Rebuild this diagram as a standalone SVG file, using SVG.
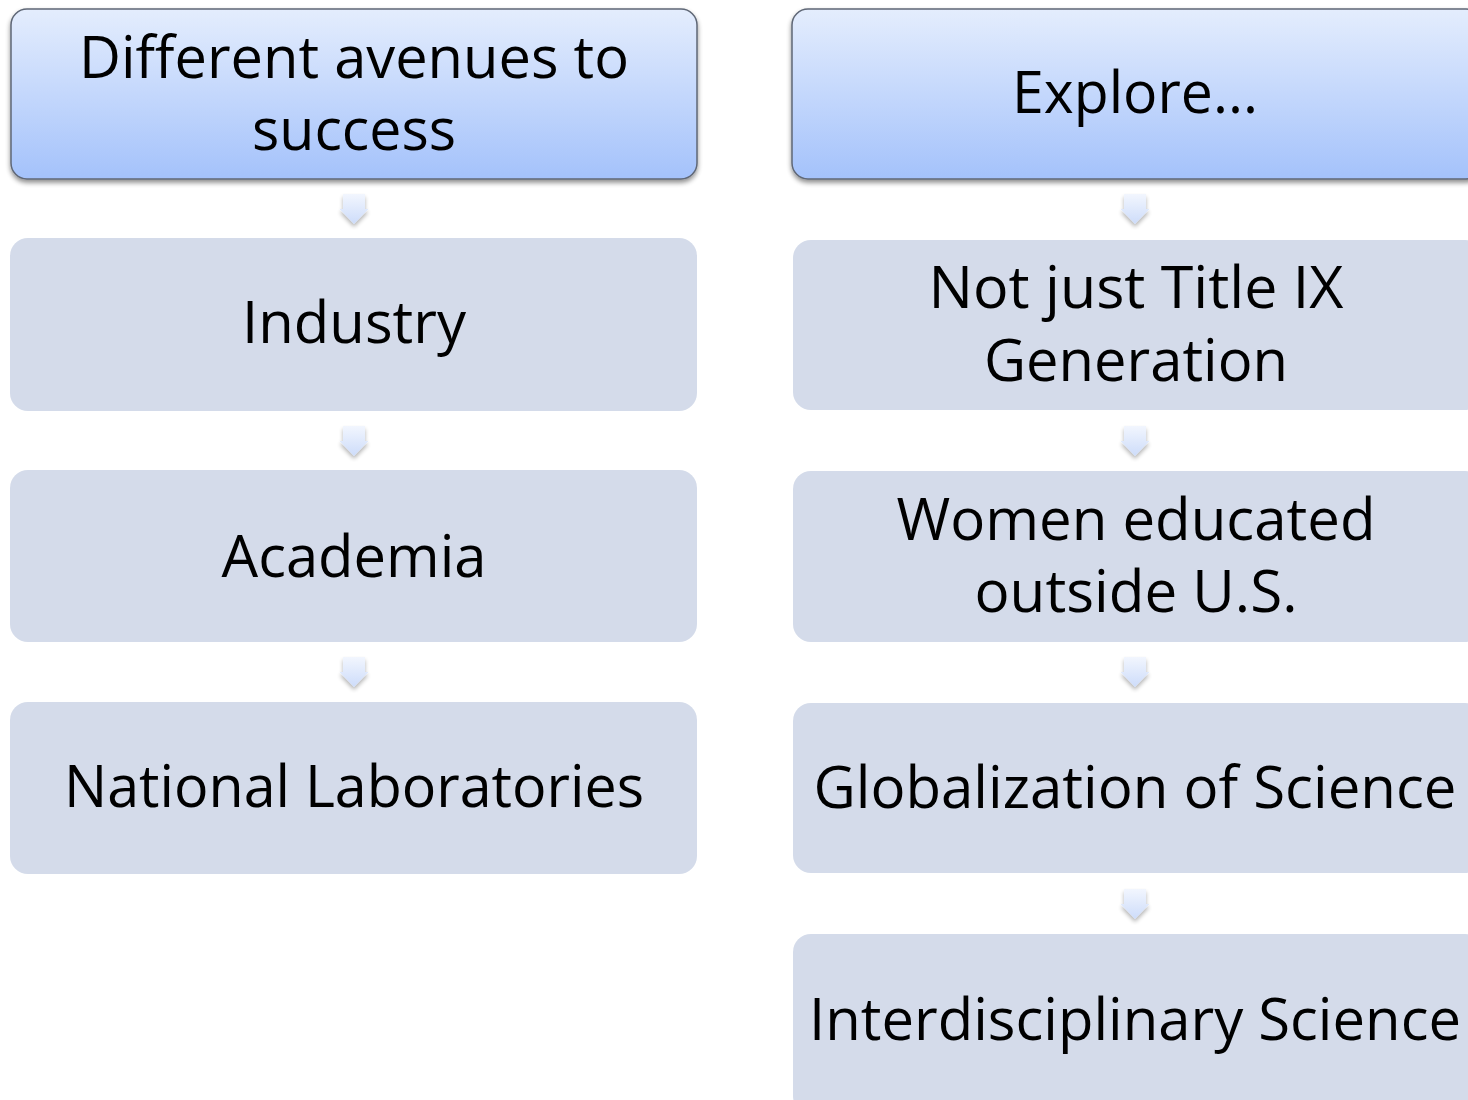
<svg xmlns="http://www.w3.org/2000/svg" width="1468" height="1100" viewBox="0 0 1468 1100">
  <defs>
    <linearGradient id="hdrFill" x1="0" y1="0" x2="0" y2="1">
      <stop offset="0" stop-color="#e4edfd"/>
      <stop offset="1" stop-color="#a4c2fb"/>
    </linearGradient>
    <linearGradient id="arrowFill" x1="0" y1="0" x2="0" y2="1">
      <stop offset="0" stop-color="#f2f6fe"/>
      <stop offset="1" stop-color="#cddcfa"/>
    </linearGradient>
    <filter id="hdrShadow" x="-5%" y="-10%" width="110%" height="130%">
      <feGaussianBlur in="SourceAlpha" stdDeviation="2.5"/>
      <feOffset dx="0" dy="3" result="b"/>
      <feComponentTransfer><feFuncA type="linear" slope="0.45"/></feComponentTransfer>
      <feMerge><feMergeNode/><feMergeNode in="SourceGraphic"/></feMerge>
    </filter>
    <filter id="arrowShadow" x="-40%" y="-30%" width="180%" height="170%">
      <feGaussianBlur in="SourceAlpha" stdDeviation="2"/>
      <feOffset dx="0" dy="3" result="b"/>
      <feComponentTransfer><feFuncA type="linear" slope="0.3"/></feComponentTransfer>
      <feMerge><feMergeNode/><feMergeNode in="SourceGraphic"/></feMerge>
    </filter>
    <path id="downArrow" d="M-11 0 H11 V15 H14.5 L0 30 L-14.5 15 H-11 Z"/>
  </defs>
  <style>
    .hdr { fill: url(#hdrFill); stroke: #5f6776; stroke-width: 1.5; filter: url(#hdrShadow); }
    .box { fill: #d4dbea; }
    .arrow { fill: url(#arrowFill); filter: url(#arrowShadow); }
    .lbl { font-family: "Open Sans", "Noto Sans", "Liberation Sans", sans-serif; font-size: 58px; fill: #000; text-anchor: middle; }
  </style>
  <rect width="1468" height="1100" fill="#ffffff"/>

  <!-- connectors: small block arrows between stacked boxes -->
  <g id="connectors">
    <use href="#downArrow" class="arrow" x="354" y="194"/>
    <use href="#downArrow" class="arrow" x="354" y="426"/>
    <use href="#downArrow" class="arrow" x="354" y="657"/>
    <use href="#downArrow" class="arrow" x="1135" y="194"/>
    <use href="#downArrow" class="arrow" x="1135" y="426"/>
    <use href="#downArrow" class="arrow" x="1135" y="657"/>
    <use href="#downArrow" class="arrow" x="1135" y="889"/>
  </g>

  <!-- left column -->
  <g id="node-avenues">
    <rect class="hdr" x="11" y="9" width="686" height="170" rx="16"/>
    <text class="lbl" x="354" y="78" textLength="550" lengthAdjust="spacingAndGlyphs">Different avenues to</text>
    <text class="lbl" x="354" y="150" textLength="204" lengthAdjust="spacingAndGlyphs">success</text>
  </g>
  <g id="node-industry">
    <rect class="box" x="10" y="238" width="687" height="173" rx="18"/>
    <text class="lbl" x="354" y="343" textLength="224" lengthAdjust="spacingAndGlyphs">Industry</text>
  </g>
  <g id="node-academia">
    <rect class="box" x="10" y="470" width="687" height="172" rx="18"/>
    <text class="lbl" x="354" y="577" textLength="265" lengthAdjust="spacingAndGlyphs">Academia</text>
  </g>
  <g id="node-labs">
    <rect class="box" x="10" y="702" width="687" height="172" rx="18"/>
    <text class="lbl" x="354" y="807" textLength="580" lengthAdjust="spacingAndGlyphs">National Laboratories</text>
  </g>

  <!-- right column -->
  <g id="node-explore">
    <rect class="hdr" x="792" y="9" width="690" height="170" rx="16"/>
    <text class="lbl" x="1135" y="113" textLength="246" lengthAdjust="spacingAndGlyphs">Explore...</text>
  </g>
  <g id="node-title-ix">
    <rect class="box" x="793" y="240" width="690" height="170" rx="18"/>
    <text class="lbl" x="1136" y="308" textLength="415" lengthAdjust="spacingAndGlyphs">Not just Title IX</text>
    <text class="lbl" x="1136" y="381" textLength="304" lengthAdjust="spacingAndGlyphs">Generation</text>
  </g>
  <g id="node-women">
    <rect class="box" x="793" y="471" width="690" height="171" rx="18"/>
    <text class="lbl" x="1136" y="540" textLength="479" lengthAdjust="spacingAndGlyphs">Women educated</text>
    <text class="lbl" x="1136" y="612" textLength="323" lengthAdjust="spacingAndGlyphs">outside U.S.</text>
  </g>
  <g id="node-globalization">
    <rect class="box" x="793" y="703" width="690" height="170" rx="18"/>
    <text class="lbl" x="1135" y="808" textLength="643" lengthAdjust="spacingAndGlyphs">Globalization of Science</text>
  </g>
  <g id="node-interdisciplinary">
    <rect class="box" x="793" y="934" width="690" height="180" rx="18"/>
    <text class="lbl" x="1135" y="1040" textLength="652" lengthAdjust="spacingAndGlyphs">Interdisciplinary Science</text>
  </g>
</svg>
